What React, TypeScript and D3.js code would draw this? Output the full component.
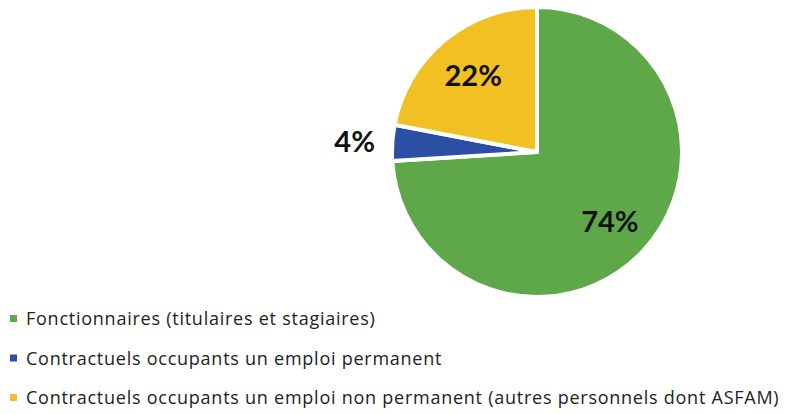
import React, { useEffect, useRef } from 'react';
import * as d3 from 'd3';

const categories = [
  'Fonctionnaires (titulaires et stagiaires)',
  'Contractuels occupants un emploi permanent',
  'Contractuels occupants un emploi non permanent (autres personnels dont ASFAM)',
];
const values = [74, 4, 22];
const labels = ['74%', '4%', '22%'];
const colors = ['#5fa84a', '#2c4fa6', '#f1c022'];

const W = 794;
const H = 414;

const App = () => {
  const svgRef = useRef<SVGSVGElement>(null);

  useEffect(() => {
    const svg = d3.select(svgRef.current);
    svg.selectAll('*').remove();

    const cx = 537;
    const cy = 152;
    const R = 145;

    const pie = d3.pie<number>().sort(null).value(d => d);
    const arcs = pie(values);
    const arc = d3.arc<d3.PieArcDatum<number>>().innerRadius(0).outerRadius(R);

    const g = svg.append('g').attr('transform', `translate(${cx},${cy})`);

    g.selectAll('path')
      .data(arcs)
      .enter()
      .append('path')
      .attr('d', arc)
      .attr('fill', (d, i) => colors[i])
      .attr('stroke', 'white')
      .attr('stroke-width', 4)
      .attr('stroke-linejoin', 'round');

    // labels: inside for large slices, outside for tiny ones
    const inner = d3.arc<d3.PieArcDatum<number>>().innerRadius(R * 0.69).outerRadius(R * 0.69);
    const outer = d3.arc<d3.PieArcDatum<number>>().innerRadius(R * 1.26).outerRadius(R * 1.26);

    g.selectAll('text.lbl')
      .data(arcs)
      .enter()
      .append('text')
      .attr('class', 'lbl')
      .attr('transform', d => `translate(${(d.data < 5 ? outer : inner).centroid(d)})`)
      .attr('text-anchor', 'middle')
      .attr('dominant-baseline', 'central')
      .style('font-family', 'Lato, "Open Sans", sans-serif')
      .style('font-weight', 'bold')
      .style('font-size', '29px')
      .style('fill', '#111')
      .text((d, i) => labels[i]);

    // legend
    const rowY = d3.scalePoint<string>().domain(categories).range([318, 397]);
    const leg = svg.append('g');
    categories.forEach((c, i) => {
      const y = rowY(c)!;
      leg.append('rect')
        .attr('x', 10)
        .attr('y', y - 3)
        .attr('width', 7)
        .attr('height', 7)
        .attr('fill', colors[i]);
      leg.append('text')
        .attr('x', 26)
        .attr('y', y)
        .attr('dominant-baseline', 'central')
        .style('font-family', '"Open Sans", sans-serif')
        .style('font-size', '18px')
        .style('letter-spacing', '0.75px')
        .style('fill', '#222')
        .text(c);
    });
  }, []);

  return (
    <svg
      ref={svgRef}
      width={W}
      height={H}
      style={{ position: 'absolute', left: 0, top: 0, background: 'white' }}
    />
  );
};

export default App;
